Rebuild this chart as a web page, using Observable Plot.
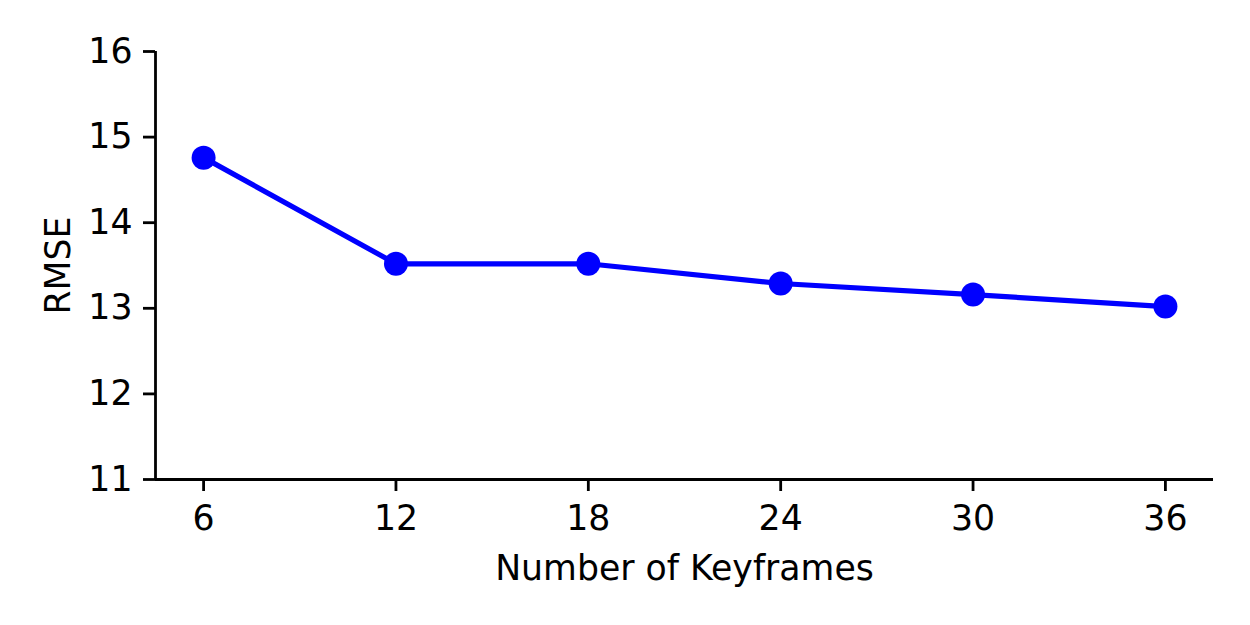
<!DOCTYPE html>
<html>
<head>
<meta charset="utf-8">
<script src="https://cdn.jsdelivr.net/npm/d3@7"></script>
<script src="https://cdn.jsdelivr.net/npm/@observablehq/plot@0.6"></script>
<style>
  html, body { margin: 0; padding: 0; background: #fff; }
</style>
</head>
<body>
<div id="chart"></div>
<script>
const keyframes = [6, 12, 18, 24, 30, 36];
const rmse = [14.76, 13.52, 13.52, 13.29, 13.16, 13.02];
const xTicks = [6, 12, 18, 24, 30, 36];
const yTicks = [11, 12, 13, 14, 15, 16];

const data = keyframes.map((k, i) => ({k, v: rmse[i]}));

const chart = Plot.plot({
  width: 1250,
  height: 625,
  marginLeft: 155,
  marginRight: 37,
  marginTop: 51,
  marginBottom: 146,
  style: {fontFamily: "DejaVu Sans", fontSize: "34.7px", color: "black", background: "white"},
  x: {domain: [4.5, 37.5]},
  y: {domain: [11, 16]},
  marks: [
    Plot.axisX({ticks: xTicks, tickFormat: "d", tickSize: 12, tickPadding: 14, strokeWidth: 2.8, label: "Number of Keyframes", labelAnchor: "center", labelArrow: "none", labelOffset: 100, fill: "black"}),
    Plot.axisY({ticks: yTicks, tickFormat: "d", tickSize: 12, tickPadding: 11, strokeWidth: 2.8, label: "RMSE", labelAnchor: "center", labelArrow: "none", labelOffset: 110, fill: "black"}),
    Plot.ruleY([11], {stroke: "black", strokeWidth: 2.8}),
    Plot.ruleX([4.5], {stroke: "black", strokeWidth: 2.8}),
    Plot.line(data, {x: "k", y: "v", stroke: "#0000ff", strokeWidth: 5.2}),
    Plot.dot(data, {x: "k", y: "v", r: 12, fill: "#0000ff", stroke: "none"})
  ]
});
document.getElementById("chart").appendChild(chart);
</script>
</body>
</html>
